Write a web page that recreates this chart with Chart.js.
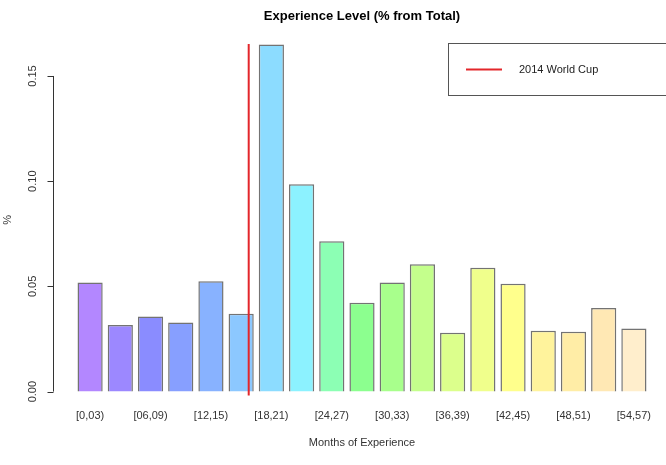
<!DOCTYPE html>
<html>
<head>
<meta charset="utf-8">
<script src="https://cdn.jsdelivr.net/npm/chart.js@4/dist/chart.umd.min.js"></script>
<style>
  html, body { margin: 0; padding: 0; background: #fff; }
  #wrap { width: 666px; height: 465px; position: relative; }
</style>
</head>
<body>
<div id="wrap"><canvas id="expChart"></canvas></div>
<script>
// --- data ---
const BINS = ['[0,03)', '[03,06)', '[06,09)', '[09,12)', '[12,15)', '[15,18)', '[18,21)',
  '[21,24)', '[24,27)', '[27,30)', '[30,33)', '[33,36)', '[36,39)', '[39,42)', '[42,45)',
  '[45,48)', '[48,51)', '[51,54)', '[54,57)'];
const SHARE = [0.0519, 0.0316, 0.0357, 0.0329, 0.0525, 0.0370, 0.1650, 0.0986, 0.0714, 0.0422,
  0.0518, 0.0605, 0.0280, 0.0589, 0.0513, 0.0289, 0.0284, 0.0397, 0.0300];
const BAR_COLORS = ['#B387FF', '#9C88FF', '#8A8CFF', '#879FFF', '#88B2FF', '#8CC8FF', '#8CDCFF',
  '#8CF2FF', '#8CFFB4', '#8CFF8F', '#A8FF8C', '#C4FF8C', '#DCFF8C', '#F0FF8C', '#FFFF8C',
  '#FFF39C', '#FFEDA6', '#FFE8B4', '#FFEECC'];
const Y_TICKS = [0, 0.05, 0.10, 0.15];
const WORLD_CUP_AT = 5.25;   // position in bar units (between [15,18) and [18,21))
const LEGEND_LABEL = '2014 World Cup';

const FONT = "'Liberation Sans', Arial, sans-serif";
const RED = '#E3262B';

// R-style extras: title, y axis with rotated labels, red marker line, legend box
const rStyle = {
  id: 'rStyle',
  afterDatasetsDraw(chart) {
    const { ctx, chartArea: area, scales: { x, y } } = chart;
    ctx.save();

    // vertical marker
    const x5 = x.getPixelForValue(Math.floor(WORLD_CUP_AT));
    const x6 = x.getPixelForValue(Math.floor(WORLD_CUP_AT) + 1);
    const lx = x5 + (WORLD_CUP_AT - Math.floor(WORLD_CUP_AT)) * (x6 - x5);
    ctx.strokeStyle = RED;
    ctx.lineWidth = 2;
    ctx.beginPath();
    ctx.moveTo(lx, area.top);
    ctx.lineTo(lx, area.bottom);
    ctx.stroke();

    // y axis
    const ax = 53.5;
    ctx.strokeStyle = '#333';
    ctx.lineWidth = 1;
    ctx.beginPath();
    ctx.moveTo(ax, y.getPixelForValue(Y_TICKS[0]));
    ctx.lineTo(ax, y.getPixelForValue(Y_TICKS[Y_TICKS.length - 1]));
    Y_TICKS.forEach(v => {
      const py = Math.round(y.getPixelForValue(v)) + 0.5;
      ctx.moveTo(ax, py);
      ctx.lineTo(ax - 6, py);
    });
    ctx.stroke();

    ctx.fillStyle = '#333';
    ctx.font = `11px ${FONT}`;
    ctx.textAlign = 'center';
    ctx.textBaseline = 'middle';
    Y_TICKS.forEach(v => {
      ctx.save();
      ctx.translate(33, y.getPixelForValue(v));
      ctx.rotate(-Math.PI / 2);
      ctx.fillText(v.toFixed(2), 0, 0);
      ctx.restore();
    });
    ctx.save();
    ctx.translate(8, (area.top + area.bottom) / 2);
    ctx.rotate(-Math.PI / 2);
    ctx.fillText('%', 0, 0);
    ctx.restore();

    // title
    ctx.fillStyle = '#000';
    ctx.font = `bold 13px ${FONT}`;
    ctx.fillText('Experience Level (% from Total)', (area.left + area.right) / 2, 16);

    // legend box (top-right of plot region)
    const bx = 448.5, by = area.top - 0.5, bw = 240, bh = 52;
    ctx.fillStyle = '#fff';
    ctx.fillRect(bx, by, bw, bh);
    ctx.strokeStyle = '#555';
    ctx.lineWidth = 1;
    ctx.strokeRect(bx, by, bw, bh);
    ctx.strokeStyle = RED;
    ctx.lineWidth = 2;
    ctx.beginPath();
    ctx.moveTo(466, by + 26);
    ctx.lineTo(502, by + 26);
    ctx.stroke();
    ctx.fillStyle = '#222';
    ctx.font = `11px ${FONT}`;
    ctx.textAlign = 'left';
    ctx.fillText(LEGEND_LABEL, 519, by + 26);

    ctx.restore();
  }
};

new Chart(document.getElementById('expChart'), {
  type: 'bar',
  data: {
    labels: BINS,
    datasets: [{
      data: SHARE,
      backgroundColor: BAR_COLORS,
      borderColor: 'rgba(40, 40, 40, 0.65)',
      borderWidth: 1.5,
      barPercentage: 1,
      categoryPercentage: 1 / 1.2
    }]
  },
  options: {
    responsive: true,
    maintainAspectRatio: false,
    animation: false,
    layout: { padding: { left: 75, right: 17, top: 44, bottom: 10 } },
    plugins: {
      legend: { display: false },
      title: { display: false },
      tooltip: { enabled: false }
    },
    scales: {
      x: {
        grid: { display: false, drawTicks: false },
        border: { display: false },
        ticks: {
          autoSkip: false,
          maxRotation: 0,
          padding: 14,
          color: '#333',
          font: { family: FONT, size: 11 },
          callback: (val, i) => (i % 2 === 0 ? BINS[i] : '')
        },
        title: {
          display: true,
          text: 'Months of Experience',
          color: '#333',
          font: { family: FONT, size: 11 },
          padding: { top: 0, bottom: 5 }
        }
      },
      y: {
        display: false,
        min: -0.0019,
        max: 0.1652
      }
    }
  },
  plugins: [rStyle]
});
</script>
</body>
</html>
